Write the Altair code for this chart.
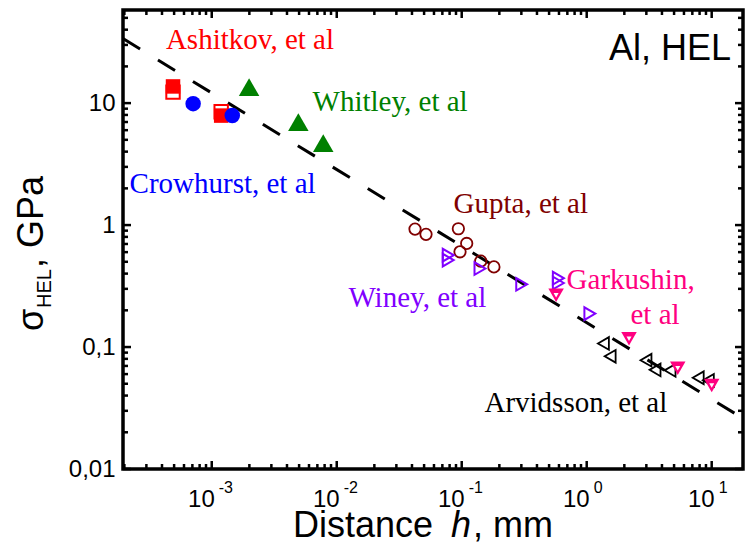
import altair as alt
import pandas as pd

# ---------------- data ----------------
ash_fill_x = [4.9e-4, 1.19e-3]
ash_fill_y = [13.7, 7.9]
ash_open_x = [4.9e-4, 1.19e-3]
ash_open_y = [12.3, 8.5]
crow_x = [7.1e-4, 1.46e-3]
crow_y = [9.9, 7.9]
whit_x = [1.99e-3, 4.93e-3, 7.8e-3]
whit_y = [13.5, 7.0, 4.7]
gupta_x = [0.0423, 0.0518, 0.094, 0.1096, 0.0969, 0.142, 0.181]
gupta_y = [0.927, 0.839, 0.933, 0.707, 0.604, 0.506, 0.454]
winey_x = [0.078, 0.078, 0.14, 0.302, 0.593, 0.593, 1.06]
winey_y = [0.567, 0.516, 0.44, 0.327, 0.367, 0.335, 0.188]
gark_x = [0.569, 2.18, 5.35, 10.0]
gark_y = [0.266, 0.117, 0.067, 0.0484]
arv_x = [1.36, 1.54, 2.98, 3.52, 4.64, 7.8, 9.4]
arv_y = [0.107, 0.084, 0.078, 0.065, 0.0644, 0.056, 0.0533]
fit_x = [1.95e-4, 17.8]
fit_y = [33.8, 0.026]

x_major = [1e-3, 1e-2, 1e-1, 1, 10]
x_exp = ["-3", "-2", "-1", "0", "1"]
y_major = [0.01, 0.1, 1, 10]
y_text = ["0,01", "0,1", "1", "10"]

label_text = ["Ashitkov, et al", "Whitley, et al", "Crowhurst, et al", "Gupta, et al",
              "Winey, et al", "Garkushin,", "et al", "Arvidsson, et al"]
label_x = [4.3e-4, 6.4e-3, 2.2e-4, 0.086, 0.0124, 0.69, 2.24, 0.152]
label_y = [27.9, 8.65, 1.84, 1.248, 0.213, 0.298, 0.1536, 0.0292]

XMIN, XMAX = 1.95e-4, 17.8
YMIN, YMAX = 0.01, 58
x_minor = [m * 10 ** e for e in range(-4, 2) for m in range(2, 10) if XMIN < m * 10 ** e < XMAX]
y_minor = [m * 10 ** e for e in range(-2, 2) for m in range(2, 10) if YMIN < m * 10 ** e < YMAX]

# ---------------- styling ----------------
W, H = 620, 459
RED, GREEN, BLUE = "#FF0000", "#008000", "#0000FF"
MAROON, VIOLET, PINK = "#800000", "#8000FF", "#FF0080"
SANS, SERIF = "Liberation Sans", "Liberation Serif"

xscale = alt.Scale(type="log", domain=[XMIN, XMAX], nice=False)
yscale = alt.Scale(type="log", domain=[YMIN, YMAX], nice=False)
yexpr = " : ".join(f"datum.value == {v} ? '{t}'" for v, t in zip(y_major, y_text)) + " : ''"
yaxis = alt.Axis(values=y_major, labelExpr=yexpr, ticks=False, domain=False, grid=False,
                 labelFontSize=24, labelFont=SANS, labelColor="black", labelPadding=8,
                 title=None)


def X():
    return alt.X("x:Q", scale=xscale, axis=None)


def Y():
    return alt.Y("y:Q", scale=yscale, axis=yaxis)


def pts(xs, ys, **mk):
    df = pd.DataFrame({"x": xs, "y": ys})
    return alt.Chart(df).mark_point(**mk).encode(x=X(), y=Y())


layers = []

# fit line
layers.append(
    alt.Chart(pd.DataFrame({"x": fit_x, "y": fit_y}))
    .mark_line(color="black", strokeWidth=3, strokeDash=[20, 21], clip=True)
    .encode(x=X(), y=Y())
)

# data series
layers.append(pts(ash_open_x, ash_open_y, shape="square", filled=False, color=RED, size=180, strokeWidth=2, opacity=1))
layers.append(pts(ash_fill_x, ash_fill_y, shape="square", filled=True, color=RED, size=210, opacity=1))
layers.append(pts(crow_x, crow_y, shape="circle", filled=True, color=BLUE, size=240, opacity=1))
layers.append(pts(whit_x, whit_y, shape="triangle-up", filled=True, color=GREEN, size=420, opacity=1))
layers.append(pts(gupta_x, gupta_y, shape="circle", filled=False, color=MAROON, size=130, strokeWidth=1.8, opacity=1))
layers.append(pts(winey_x, winey_y, shape="triangle-right", filled=False, color=VIOLET, size=160, strokeWidth=2, opacity=1))
layers.append(pts(arv_x, arv_y, shape="triangle-left", filled=False, color="black", size=160, strokeWidth=1.8, opacity=1))
layers.append(pts(gark_x, gark_y, shape="triangle-down", filled=True, color=PINK, size=240, opacity=1))
layers.append(pts(gark_x, gark_y, shape="triangle-down", filled=True, color="white", size=25, opacity=1))

# ticks (inward, on all four sides)
dfxM = pd.DataFrame({"x": x_major, "e": x_exp})
dfxm = pd.DataFrame({"x": x_minor})
dfyM = pd.DataFrame({"y": y_major})
dfym = pd.DataFrame({"y": y_minor})
for df, ln in [(dfxM, 8), (dfxm, 5)]:
    layers.append(alt.Chart(df).mark_rule(color="black", strokeWidth=2.5)
                  .encode(x=X(), y=alt.value(H), y2=alt.value(H - ln)))
    layers.append(alt.Chart(df).mark_rule(color="black", strokeWidth=2.5)
                  .encode(x=X(), y=alt.value(0), y2=alt.value(ln)))
for df, ln in [(dfyM, 8), (dfym, 5)]:
    layers.append(alt.Chart(df).mark_rule(color="black", strokeWidth=2.5)
                  .encode(y=Y(), x=alt.value(0), x2=alt.value(ln)))
    layers.append(alt.Chart(df).mark_rule(color="black", strokeWidth=2.5)
                  .encode(y=Y(), x=alt.value(W), x2=alt.value(W - ln)))

# x tick labels 10^n
layers.append(alt.Chart(dfxM).mark_text(text="10", align="right", baseline="alphabetic",
                                        fontSize=24, font=SANS, color="black", dx=3)
              .encode(x=X(), y=alt.value(H + 38)))
layers.append(alt.Chart(dfxM).mark_text(align="left", baseline="alphabetic",
                                        fontSize=16, font=SANS, color="black", dx=7)
              .encode(x=X(), y=alt.value(H + 24), text="e:N"))

# series labels
label_colors = [RED, GREEN, BLUE, MAROON, VIOLET, PINK, PINK, "black"]
for t, lx, ly, c in zip(label_text, label_x, label_y, label_colors):
    layers.append(alt.Chart(pd.DataFrame({"x": [lx], "y": [ly]}))
                  .mark_text(text=t, align="left", baseline="alphabetic", fontSize=29,
                             font=SERIF, color=c)
                  .encode(x=X(), y=Y()))

one = pd.DataFrame({"a": [0]})


def txt(t, x, y, **kw):
    return alt.Chart(one).mark_text(text=t, **kw).encode(x=alt.value(x), y=alt.value(y))


# panel label
layers.append(txt("Al, HEL", 608, 50, align="right", baseline="alphabetic", fontSize=36, font=SANS, color="black"))

# x title: Distance h, mm
layers.append(txt("Distance", 170, 527, align="left", baseline="alphabetic", fontSize=36, font=SANS, color="black"))
layers.append(txt("h", 328, 527, align="left", baseline="alphabetic", fontSize=36, font=SANS, fontStyle="italic", color="black"))
layers.append(txt(", mm", 350, 527, align="left", baseline="alphabetic", fontSize=36, font=SANS, color="black"))

# y title: sigma_HEL, GPa (rotated)
layers.append(txt("σ", -80, 321, align="left", baseline="alphabetic", fontSize=36, font=SANS, angle=270, color="black"))
layers.append(txt("HEL", -72, 298, align="left", baseline="alphabetic", fontSize=20, font=SANS, angle=270, color="black"))
layers.append(txt(", GPa", -80, 258, align="left", baseline="alphabetic", fontSize=36, font=SANS, angle=270, color="black"))

chart = (
    alt.layer(*layers)
    .properties(width=W, height=H, autosize=alt.AutoSizeParams(type="none"),
                padding={"left": 123, "top": 10, "right": 6, "bottom": 76},
                background="white")
    .configure_view(stroke="black", strokeWidth=3.5)
)

chart.save("out.html", embed_options={"renderer": "svg", "actions": False})
